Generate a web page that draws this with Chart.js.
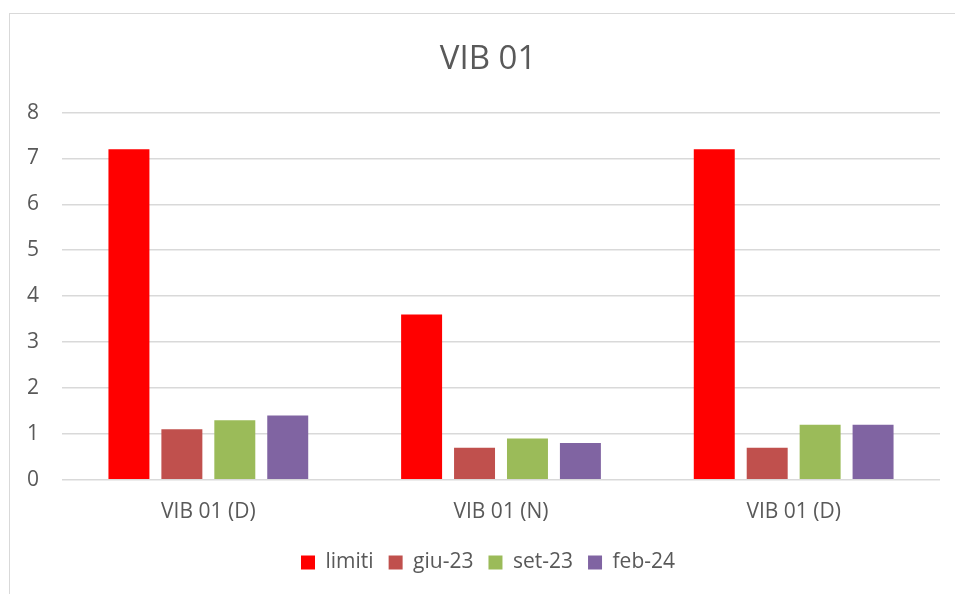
<!DOCTYPE html>
<html>
<head>
<meta charset="utf-8">
<script src="https://cdn.jsdelivr.net/npm/chart.js@4/dist/chart.umd.min.js"></script>
<style>
  html, body { margin: 0; padding: 0; background: #fff; overflow: hidden; }
  #frame { position: absolute; left: 9px; top: 13px; width: 980px; height: 620px; border: 1.5px solid #d9d9d9; box-sizing: border-box; }
  #wrap { position: absolute; left: 0; top: 0; width: 976px; height: 594px; }
</style>
</head>
<body>
<div id="frame"></div>
<div id="wrap"><canvas id="c" width="976" height="594"></canvas></div>
<script>
const categories = ["VIB 01 (D)", "VIB 01 (N)", "VIB 01 (D)"];
const seriesNames = ["limiti", "giu-23", "set-23", "feb-24"];
const limiti = [7.2, 3.6, 7.2];
const giu23 = [1.1, 0.7, 0.7];
const set23 = [1.3, 0.9, 1.2];
const feb24 = [1.4, 0.8, 1.2];
const colors = ["#FF0000", "#C0504D", "#9BBB59", "#8064A2"];
const yTicks = [0, 1, 2, 3, 4, 5, 6, 7, 8];

const FONT = "'Open Sans', sans-serif";
const TXT = "#595959";

const data = {
  labels: categories,
  datasets: [limiti, giu23, set23, feb24].map((vals, i) => ({
    label: seriesNames[i],
    data: vals,
    backgroundColor: colors[i],
    borderWidth: 0,
    categoryPercentage: 0.7235,
    barPercentage: 0.774
  }))
};

new Chart(document.getElementById('c'), {
  type: 'bar',
  data: data,
  options: {
    responsive: false,
    animation: false,
    layout: { padding: { left: 4, right: 4, top: 0, bottom: 11 } },
    plugins: {
      tooltip: { enabled: false },
      title: {
        display: true,
        text: "VIB 01",
        color: TXT,
        font: { family: FONT, size: 33, weight: 'normal' },
        padding: { top: 40, bottom: 33 }
      },
      legend: {
        position: 'bottom',
        labels: {
          color: TXT,
          font: { family: FONT, size: 21 },
          boxWidth: 14,
          boxHeight: 14,
          padding: 15
        }
      }
    },
    scales: {
      x: {
        grid: { display: false },
        border: { display: false },
        ticks: { color: TXT, font: { family: FONT, size: 21 }, padding: 12 }
      },
      y: {
        min: 0,
        max: 8,
        afterBuildTicks: (axis) => { axis.ticks = yTicks.map(v => ({ value: v })); },
        grid: { color: "#d9d9d9", lineWidth: 1.6, drawTicks: false },
        border: { display: false },
        ticks: { color: TXT, font: { family: FONT, size: 21 }, padding: 23 }
      },
      yR: {
        position: 'right',
        display: true,
        grid: { display: false },
        border: { display: false },
        ticks: { display: false },
        afterFit: (axis) => { axis.width = 32; }
      }
    }
  }
});
</script>
</body>
</html>
